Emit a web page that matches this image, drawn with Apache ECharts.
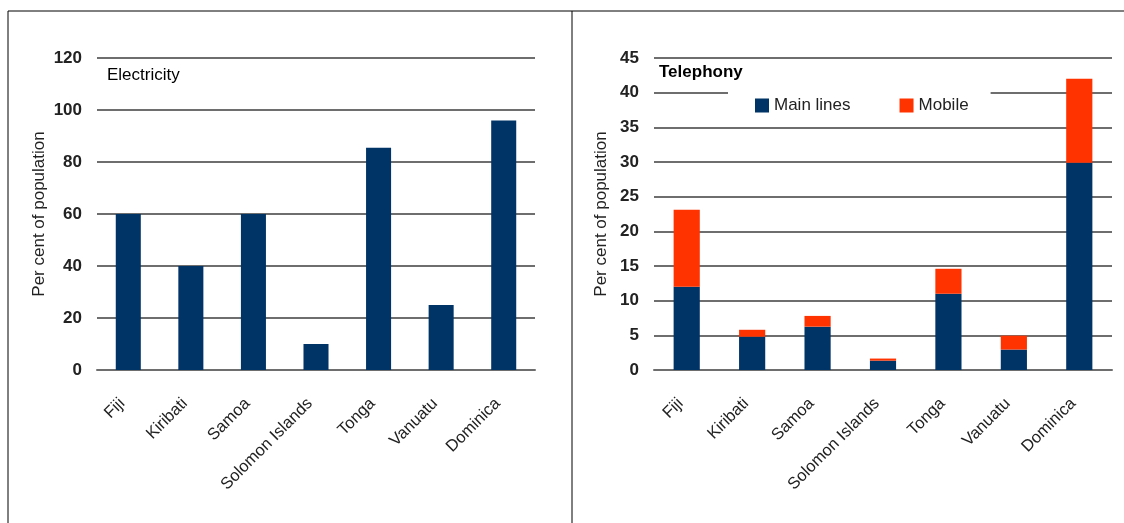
<!DOCTYPE html>
<html>
<head>
<meta charset="utf-8">
<script src="https://cdn.jsdelivr.net/npm/echarts@6/dist/echarts.min.js"></script>
<style>
    html, body {margin: 0; padding: 0; background: #fff;}
    #main {width: 1124px; height: 523px;}
</style>
</head>
<body>
<div id="main"></div>
<script>
// 数据
var countries = ['Fiji', 'Kiribati', 'Samoa', 'Solomon Islands', 'Tonga', 'Vanuatu', 'Dominica'];
var electricity = [60, 40, 60, 10, 85.5, 25, 96];
var mainLines = [12, 4.8, 6.25, 1.35, 11, 2.95, 29.9];
var mobile = [11.1, 1.0, 1.55, 0.3, 3.6, 2.0, 12.1];

var fontName = '"Liberation Sans Narrow", "Arial Narrow", "Liberation Sans", sans-serif';
var navy = '#003366';
var orange = '#ff3300';

var myChart = echarts.init(document.getElementById('main'));

function yAxisFor(gridIndex, max, interval, gap) {
    return {
        gridIndex: gridIndex,
        type: 'value',
        min: 0,
        max: max,
        interval: interval,
        name: 'Per cent of population',
        nameLocation: 'middle',
        nameGap: gap,
        nameTextStyle: {fontFamily: fontName, fontSize: 17, color: '#222'},
        axisLine: {show: false},
        axisTick: {show: false},
        axisLabel: {fontFamily: fontName, fontSize: 17, fontWeight: 'bold', color: '#222', margin: 15},
        splitLine: {lineStyle: {color: '#6e6e6e', width: 2}}
    };
}

function xAxisFor(gridIndex) {
    return {
        gridIndex: gridIndex,
        type: 'category',
        data: countries,
        axisLine: {lineStyle: {color: '#6e6e6e', width: 2}},
        axisTick: {show: false},
        axisLabel: {
            fontFamily: fontName, fontSize: 16.5, color: '#222',
            rotate: 45, margin: 37, interval: 0, verticalAlign: 'bottom'
        }
    };
}

var option = {
    animation: false,
    title: [{
        text: 'Electricity',
        left: 102, top: 62,
        textStyle: {fontFamily: fontName, fontSize: 17, fontWeight: 'normal', color: '#000'}
    }, {
        text: 'Telephony',
        left: 654, top: 59,
        textStyle: {fontFamily: fontName, fontSize: 17, fontWeight: 'bold', color: '#000'}
    }],
    legend: {
        data: ['Main lines', 'Mobile'],
        left: 728, top: 85,
        padding: [12, 22, 6, 27],
        backgroundColor: '#fff',
        itemWidth: 14, itemHeight: 14,
        itemGap: 49,
        icon: 'rect',
        textStyle: {fontFamily: fontName, fontSize: 17, color: '#222'}
    },
    grid: [
        {left: 97, right: 589, top: 58, bottom: 153},
        {left: 654, right: 12, top: 58, bottom: 153}
    ],
    xAxis: [xAxisFor(0), xAxisFor(1)],
    yAxis: [yAxisFor(0, 120, 20, 49), yAxisFor(1, 45, 5, 44)],
    series: [{
        name: 'Electricity',
        type: 'bar',
        xAxisIndex: 0, yAxisIndex: 0,
        barCategoryGap: '60%',
        itemStyle: {color: navy},
        data: electricity
    }, {
        name: 'Main lines',
        type: 'bar',
        stack: 'tel',
        xAxisIndex: 1, yAxisIndex: 1,
        barCategoryGap: '60%',
        itemStyle: {color: navy},
        data: mainLines
    }, {
        name: 'Mobile',
        type: 'bar',
        stack: 'tel',
        xAxisIndex: 1, yAxisIndex: 1,
        barCategoryGap: '60%',
        itemStyle: {color: orange},
        data: mobile
    }],
    // panel borders
    graphic: [
        {type: 'line', shape: {x1: 8, y1: 11, x2: 1124, y2: 11}, style: {stroke: '#000', lineWidth: 1}},
        {type: 'line', shape: {x1: 8, y1: 11, x2: 8, y2: 523}, style: {stroke: '#000', lineWidth: 1}},
        {type: 'line', shape: {x1: 572, y1: 11, x2: 572, y2: 523}, style: {stroke: '#000', lineWidth: 1}}
    ]
};

myChart.setOption(option);
</script>
</body>
</html>
